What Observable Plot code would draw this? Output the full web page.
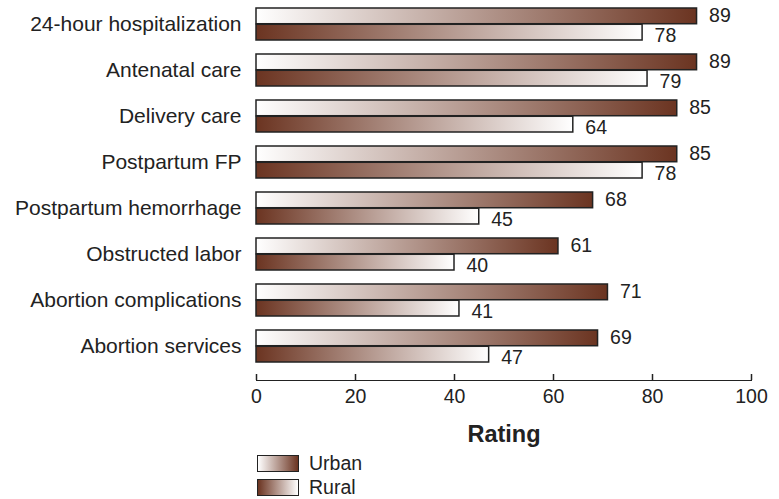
<!DOCTYPE html>
<html>
<head>
<meta charset="utf-8">
<script src="https://cdn.jsdelivr.net/npm/d3@7"></script>
<script src="https://cdn.jsdelivr.net/npm/@observablehq/plot@0.6"></script>
<style>
  body { margin: 0; background: white; font-family: "Liberation Sans", Arial, sans-serif; color: #222; }
  #chart svg { display: block; }
  g[aria-label="x-axis label"] text { font-weight: bold; font-size: 23.5px; }
  g[aria-label="y-axis tick label"] text { font-size: 21px; }
  .legend { margin-left: 257px; padding-top: 1px; }
  .legend .row { display: flex; align-items: center; height: 24px; font-size: 19.5px; }
  .legend .sw { width: 40px; height: 15px; border: 1.5px solid #222; margin-right: 10px; box-sizing: content-box; }
</style>
</head>
<body>
<div id="chart"></div>
<script>
const categories = ["24-hour hospitalization", "Antenatal care", "Delivery care", "Postpartum FP",
  "Postpartum hemorrhage", "Obstructed labor", "Abortion complications", "Abortion services"];
const urban = [89, 89, 85, 85, 68, 61, 71, 69];
const rural = [78, 79, 64, 78, 45, 40, 41, 47];
const series = ["Urban", "Rural"];
const xTicks = [0, 20, 40, 60, 80, 100];

const dark = "#6b3421";
const urbanData = categories.map((c, i) => ({category: c, series: series[0], value: urban[i]}));
const ruralData = categories.map((c, i) => ({category: c, series: series[1], value: rural[i]}));

const H = 450, MB = 70, MT = 0;
const plotH = H - MB - MT;
const paddingInner = 0.307, paddingOuter = 0.2;
const step = plotH / (categories.length - paddingInner + 2 * paddingOuter);
const half = step * (1 - paddingInner) / 2;

const svg = Plot.plot({
  width: 779,
  height: H,
  marginLeft: 256,
  marginRight: 28,
  marginTop: MT,
  marginBottom: MB,
  style: {fontFamily: "Liberation Sans, Arial, sans-serif", fontSize: "19.5px", color: "#222", background: "white"},
  x: {domain: [0, 100], ticks: xTicks, tickSize: 0, tickPadding: 9, line: true, label: "Rating",
      labelAnchor: "center", labelOffset: 61, labelArrow: "none"},
  y: {domain: categories, label: null, tickSize: 0, tickPadding: 15,
      paddingInner, paddingOuter, align: 0.32},
  marks: [
    Plot.barX(urbanData, {x: "value", y: "category", insetBottom: half, fill: "url(#gradUrban)",
      stroke: "#222", strokeWidth: 1.5}),
    Plot.barX(ruralData, {x: "value", y: "category", insetTop: half, fill: "url(#gradRural)",
      stroke: "#222", strokeWidth: 1.5}),
    Plot.text(urbanData, {x: "value", y: "category", text: d => String(d.value), dx: 12, dy: -9,
      textAnchor: "start", fontSize: 19.5, fill: "#222"}),
    Plot.text(ruralData, {x: "value", y: "category", text: d => String(d.value), dx: 12, dy: 11,
      textAnchor: "start", fontSize: 19.5, fill: "#222"}),
    Plot.tickX(xTicks, {x: d => d, insetTop: plotH - 6, stroke: "#222", strokeWidth: 1.5})
  ]
});

const defs = d3.select(svg).insert("defs", ":first-child");
function grad(id, from, to) {
  const g = defs.append("linearGradient").attr("id", id).attr("x1", "0").attr("x2", "1").attr("y1", "0").attr("y2", "0");
  g.append("stop").attr("offset", "0").attr("stop-color", from);
  g.append("stop").attr("offset", "1").attr("stop-color", to);
}
grad("gradUrban", "#ffffff", dark);
grad("gradRural", dark, "#ffffff");

document.getElementById("chart").appendChild(svg);

const legend = d3.select("#chart").append("div").attr("class", "legend");
const legendFills = {
  Urban: `linear-gradient(to right, #ffffff, ${dark})`,
  Rural: `linear-gradient(to right, ${dark}, #ffffff)`
};
series.forEach(s => {
  const row = legend.append("div").attr("class", "row");
  row.append("div").attr("class", "sw").style("background", legendFills[s]);
  row.append("span").text(s);
});
</script>
</body>
</html>
